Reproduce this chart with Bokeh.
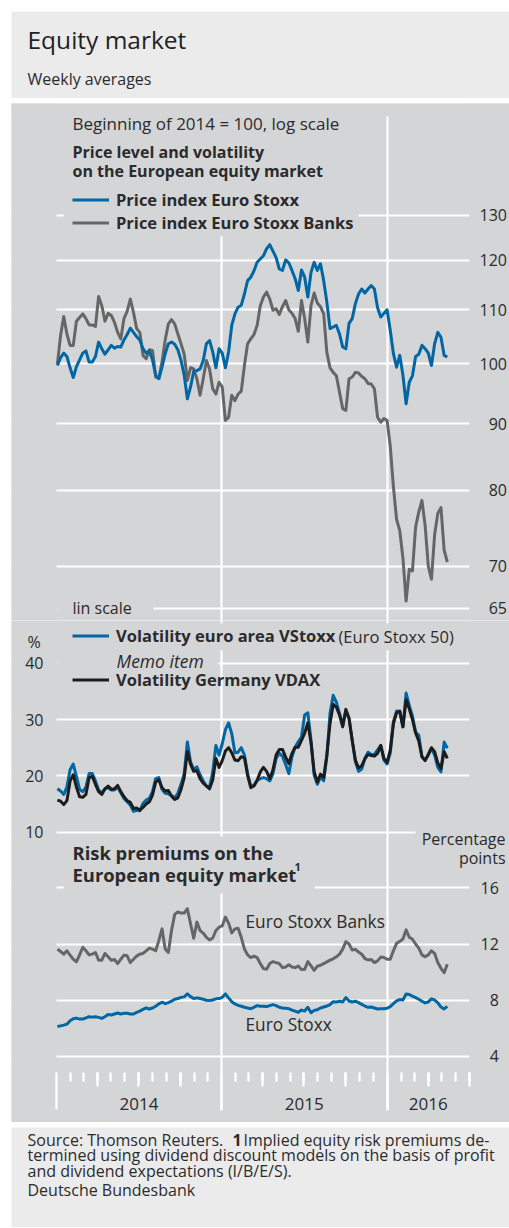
import math
import pandas as pd
from bokeh.plotting import figure
from bokeh.layouts import column
from bokeh.models import (Range1d, FixedTicker, LinearAxis, LogAxis, Label, BoxAnnotation,
                          Legend, LegendItem, Grid, ColumnDataSource)
from bokeh.embed import file_html
from bokeh.resources import INLINE

# ---------------- data (weekly averages) ----------------
es_price = [99.7, 101.1, 101.9, 101.3, 99.3, 97.6, 99.5, 100.7, 101.9, 102.3,
            100.3, 100.3, 101.3, 103.9, 102.7, 101.7, 102.5, 103.3, 102.8, 103.1,
            103.0, 104.3, 105.3, 106.5, 105.7, 104.9, 104.3, 102.7, 101.9, 102.3,
            100.7, 98.0, 97.4, 99.4, 101.8, 103.6, 103.9, 103.5, 102.5, 100.6,
            98.0, 94.0, 96.0, 98.7, 98.8, 99.1, 100.6, 103.6, 104.2, 102.1,
            99.3, 102.7, 101.9, 99.3, 102.1, 107.0, 109.2, 110.5, 110.9, 113.1,
            115.8, 116.5, 117.8, 119.6, 120.3, 121.0, 122.5, 123.4, 122.0, 120.6,
            118.2, 117.9, 120.1, 119.5, 117.9, 116.2, 113.8, 118.0, 116.5, 112.5,
            117.5, 119.6, 117.9, 119.3, 115.8, 111.5, 106.4, 106.7, 107.0, 105.4,
            103.0, 102.7, 107.4, 108.3, 111.2, 113.1, 114.1, 113.3, 114.1, 114.8,
            114.1, 110.4, 108.6, 109.3, 110.0, 106.1, 101.8, 99.4, 101.5, 98.0,
            93.2, 96.8, 97.9, 101.3, 101.7, 103.3, 102.7, 101.9, 99.7, 103.6,
            105.7, 104.8, 101.5, 101.2]
banks_price = [100.0, 105.1, 108.7, 105.4, 103.3, 103.3, 107.8, 108.5, 109.2, 108.3,
               107.1, 107.1, 106.8, 112.6, 110.8, 107.8, 109.3, 108.9, 107.6, 105.7,
               104.5, 108.3, 109.7, 112.1, 109.5, 106.4, 105.7, 101.5, 100.9, 102.5,
               102.4, 97.7, 97.5, 100.3, 104.3, 107.3, 108.1, 107.3, 105.4, 103.6,
               101.7, 97.1, 99.3, 99.1, 97.4, 94.6, 97.4, 100.6, 99.1, 95.7,
               94.8, 96.8, 96.0, 90.5, 91.0, 94.6, 93.7, 94.8, 95.3, 99.7,
               103.6, 104.5, 105.3, 107.0, 110.8, 112.5, 113.5, 112.1, 109.9, 110.2,
               109.1, 110.6, 111.8, 110.0, 109.3, 108.3, 105.9, 111.8, 108.3, 103.9,
               110.8, 113.3, 111.3, 110.6, 109.2, 102.0, 99.3, 98.5, 97.9, 95.1,
               92.4, 92.1, 97.4, 97.7, 98.5, 98.4, 97.8, 97.4, 96.6, 96.5,
               95.7, 91.0, 90.2, 90.8, 90.5, 86.5, 80.5, 76.0, 74.5, 71.0,
               65.8, 69.6, 69.4, 75.0, 77.0, 78.6, 75.2, 70.0, 68.4, 74.0,
               76.8, 77.6, 72.0, 70.5]
vstoxx = [17.7, 17.3, 16.7, 18.0, 21.1, 22.1, 19.9, 17.6, 17.2, 18.0,
          20.4, 20.4, 19.1, 17.5, 17.0, 17.7, 17.9, 17.5, 17.5, 18.0,
          17.0, 16.0, 15.4, 14.8, 13.7, 13.9, 13.8, 15.1, 15.7, 16.0,
          17.2, 19.5, 19.7, 17.6, 16.9, 16.8, 16.5, 16.1, 16.9, 18.5,
          20.4, 26.0, 22.5, 21.1, 21.6, 20.2, 19.1, 18.2, 18.0, 20.7,
          25.4, 23.7, 25.7, 28.2, 29.4, 27.5, 24.1, 24.2, 25.0, 23.7,
          20.4, 18.2, 18.3, 19.2, 19.5, 19.7, 19.5, 19.1, 20.4, 23.1,
          24.0, 23.5, 22.0, 20.4, 23.4, 25.1, 26.1, 26.9, 30.8, 31.2,
          26.4, 20.1, 18.5, 19.8, 19.1, 23.4, 31.1, 34.3, 33.1, 31.1,
          29.0, 31.5, 30.2, 26.3, 22.5, 20.8, 21.2, 23.1, 24.2, 23.8,
          23.8, 24.6, 25.4, 22.8, 22.1, 24.0, 29.6, 31.5, 31.4, 28.7,
          34.7, 32.5, 30.6, 27.8, 27.2, 23.4, 22.8, 23.7, 24.9, 23.7,
          21.5, 20.7, 26.0, 24.9]
vdax = [15.7, 15.5, 14.9, 15.6, 19.1, 20.2, 18.0, 16.3, 16.2, 16.7,
        19.7, 19.9, 18.5, 17.2, 16.7, 17.7, 18.2, 17.6, 17.7, 18.3,
        17.2, 16.3, 15.6, 15.3, 14.2, 14.3, 13.9, 14.4, 15.0, 15.4,
        16.6, 18.9, 19.3, 17.9, 17.3, 17.4, 16.4, 15.8, 16.1, 17.6,
        19.7, 24.3, 22.1, 20.8, 20.9, 19.5, 18.7, 18.2, 17.7, 19.3,
        23.1, 21.5, 22.7, 24.4, 25.0, 24.1, 22.8, 22.7, 23.4, 23.2,
        20.1, 17.9, 18.2, 19.2, 20.7, 21.5, 20.8, 19.5, 21.1, 23.7,
        24.7, 24.7, 23.3, 22.2, 24.0, 25.1, 25.1, 26.3, 27.6, 29.4,
        25.9, 20.7, 18.9, 20.3, 19.7, 23.7, 29.3, 32.7, 32.2, 30.8,
        28.7, 31.8, 30.2, 26.3, 22.8, 21.4, 21.8, 23.0, 23.8, 23.6,
        23.5, 24.0, 25.4, 23.1, 22.4, 24.6, 29.3, 31.2, 31.5, 28.7,
        33.5, 31.9, 30.0, 27.6, 26.2, 23.4, 22.7, 23.8, 25.0, 24.3,
        22.3, 21.3, 24.3, 23.1]
banks_rp = [11.64, 11.47, 11.28, 11.52, 11.21, 10.92, 10.73, 11.23, 11.76, 11.52,
            11.23, 11.28, 11.40, 10.85, 10.85, 11.33, 11.09, 10.85, 10.90, 10.61,
            10.92, 11.21, 11.16, 10.68, 10.92, 11.14, 11.28, 11.33, 11.52, 11.71,
            11.64, 11.52, 12.24, 13.08, 11.64, 11.40, 12.96, 14.11, 14.28, 14.20,
            14.20, 14.51, 13.44, 12.41, 13.56, 12.96, 12.77, 12.48, 12.29, 12.43,
            12.96, 13.20, 13.29, 13.92, 13.49, 12.79, 13.08, 13.13, 12.48, 11.64,
            11.23, 11.04, 11.14, 11.04, 10.61, 10.25, 10.20, 10.61, 10.75, 10.68,
            10.61, 10.32, 10.37, 10.52, 10.37, 10.32, 10.44, 10.18, 10.20, 10.75,
            10.44, 10.13, 10.42, 10.49, 10.61, 10.73, 10.85, 10.95, 11.09, 11.28,
            11.64, 12.17, 12.00, 11.57, 11.62, 11.43, 11.28, 10.97, 10.87, 10.90,
            10.68, 10.80, 11.07, 11.04, 10.92, 10.92, 11.52, 12.05, 12.19, 12.36,
            13.01, 12.48, 12.34, 12.00, 11.71, 11.23, 11.09, 11.23, 11.52, 11.33,
            10.68, 10.27, 9.96, 10.56]
es_rp = [6.13, 6.18, 6.23, 6.30, 6.54, 6.68, 6.73, 6.66, 6.66, 6.75,
         6.83, 6.80, 6.83, 6.78, 6.71, 6.83, 6.99, 6.95, 7.02, 7.09,
         7.02, 7.07, 7.07, 7.02, 7.02, 7.14, 7.23, 7.35, 7.45, 7.38,
         7.45, 7.57, 7.74, 7.86, 7.76, 7.83, 7.93, 8.07, 8.12, 8.21,
         8.24, 8.45, 8.26, 8.12, 8.17, 8.12, 8.07, 8.00, 7.98, 8.02,
         8.10, 8.12, 8.21, 8.45, 8.17, 7.90, 7.74, 7.64, 7.57, 7.50,
         7.45, 7.40, 7.50, 7.62, 7.57, 7.57, 7.55, 7.62, 7.69, 7.62,
         7.50, 7.45, 7.43, 7.40, 7.30, 7.23, 7.14, 7.30, 7.23, 7.50,
         7.11, 7.28, 7.33, 7.45, 7.52, 7.59, 7.69, 7.90, 7.88, 7.93,
         7.88, 8.19, 7.95, 7.88, 7.93, 7.83, 7.71, 7.59, 7.50, 7.52,
         7.45, 7.38, 7.40, 7.40, 7.43, 7.55, 7.76, 7.95, 8.05, 8.02,
         8.45, 8.41, 8.29, 8.19, 8.07, 7.93, 7.81, 7.88, 8.10, 8.02,
         7.81, 7.52, 7.38, 7.57]

price_ticks = [65, 70, 80, 90, 100, 110, 120, 130]
vol_ticks = [10, 20, 30, 40]
rp_ticks = [4, 8, 12, 16]
year_labels = ["2014", "2015", "2016"]

dates = pd.date_range("2014-01-03", periods=len(es_price), freq="7D")

# ---------------- style / page geometry (page pixels) ----------------
FONT = "Open Sans"
TXT = "#2b2b2b"
BG = "#d4d5d7"
HBG = "#ebebec"
BLUE = "#0066a4"
GRAY = "#666666"
BLACK = "#1c1c1c"
WHITE = "#ffffff"

PX0, PX1 = 11, 509      # figure left / right on the page
W = PX1 - PX0
FL, FR = 56, 469        # plot-area left / right on the page
XS, XE = pd.Timestamp("2014-01-01"), pd.Timestamp("2016-07-01")
MS0, MS1 = XS.value / 1e6, XE.value / 1e6
LH = 23                 # legend row height


def ms(s):
    return pd.Timestamp(s).value / 1e6


def xpos(px):
    return MS0 + (px - FL) / (FR - FL) * (MS1 - MS0)


xr = Range1d(start=xpos(PX0), end=xpos(PX1))


def vA(py):   # log scale of the price panel (page y -> value)
    return 100.0 * math.exp((363.3 - py) / 567.0)


def vV(py):   # volatility scale
    return 40.0 + (662.7 - py) / 5.633


def vR(py):   # risk premium scale
    return 16.0 + (887.3 - py) / 14.057


def base_fig(h, yrange, ytype="linear"):
    p = figure(width=W, height=h, x_range=xr, y_range=yrange, y_axis_type=ytype,
               x_axis_location=None, y_axis_location=None,
               output_backend="svg", toolbar_location=None,
               min_border_left=0, min_border_right=0, min_border_top=0, min_border_bottom=0,
               background_fill_color=BG, border_fill_color=BG, outline_line_color=None)
    for g in p.select(type=Grid):
        g.visible = False
    return p


def style_axis(ax, standoff):
    ax.axis_line_color = None
    ax.major_tick_line_color = None
    ax.minor_tick_line_color = None
    ax.major_tick_out = 0
    ax.major_tick_in = 0
    ax.major_label_standoff = standoff
    ax.major_label_text_font = FONT
    ax.major_label_text_font_size = "16px"
    ax.major_label_text_color = TXT


def add_label(p, text, x, y, size="16px", style="normal", align="left", color=TXT):
    p.add_layout(Label(x=x, y=y, text=text, text_font=FONT, text_font_size=size,
                       text_font_style=style, text_align=align, text_baseline="middle",
                       text_color=color))


def mask(p, x0, x1, ytop, ybot):
    p.add_layout(BoxAnnotation(left=xpos(x0), right=xpos(x1), top=ytop, bottom=ybot,
                               fill_color=BG, fill_alpha=1.0, line_color=None, level="underlay"))


def make_legend(items, vx, vy):
    return Legend(items=items, location=(vx, vy), orientation="vertical",
                  glyph_width=37, glyph_height=LH, label_height=LH, label_standoff=7,
                  padding=0, margin=0, spacing=0, border_line_color=None,
                  background_fill_alpha=0, label_text_font=FONT, label_text_font_size="16.5px",
                  label_text_font_style="bold", label_text_color=TXT)


year_grid = FixedTicker(ticks=[ms("2015-01-01"), ms("2016-01-01")])


def text_fig(top, bottom):
    p = figure(width=W, height=bottom - top, x_range=Range1d(PX0, PX1),
               y_range=Range1d(bottom, top), x_axis_location=None, y_axis_location=None,
               output_backend="svg", toolbar_location=None,
               min_border_left=0, min_border_right=0, min_border_top=0, min_border_bottom=0,
               background_fill_color=HBG, border_fill_color=HBG, outline_line_color=None)
    for g in p.select(type=Grid):
        g.visible = False
    return p


# ---------------- header (page y 11..98) ----------------
pH = text_fig(11, 98)
add_label(pH, "Equity market", 27, 38.5, size="24.5px", color="#222222")
add_label(pH, "Weekly averages", 27, 78, size="16px")
pH.margin = (0, 0, 5, 0)

# ---------------- price panel, log scale (page y 103..620) ----------------
A_TOP, A_BOT = 103, 620
pA = base_fig(A_BOT - A_TOP, Range1d(vA(A_BOT), vA(A_TOP)), "log")
pA.add_layout(Grid(dimension=1, ticker=FixedTicker(ticks=price_ticks),
                   grid_line_color=WHITE, grid_line_width=2.2))
pA.add_layout(Grid(dimension=0, ticker=year_grid, grid_line_color=WHITE, grid_line_width=2.2))
mask(pA, PX0, FL, vA(A_TOP), vA(A_BOT))
mask(pA, FR, PX1, vA(A_TOP), vA(A_BOT))
mask(pA, PX0, PX1, vA(A_TOP), vA(116))
mask(pA, 63.3, 358, vA(116), vA(236))
mask(pA, FL, 153, vA(598), vA(616))

srcA = ColumnDataSource(dict(date=dates, es=es_price, banks=banks_price))
r_banks = pA.line("date", "banks", source=srcA, line_color=GRAY, line_width=3, line_join="round")
r_es = pA.line("date", "es", source=srcA, line_color=BLUE, line_width=3, line_join="round")

axA = LogAxis(ticker=FixedTicker(ticks=price_ticks, minor_ticks=[]), fixed_location=MS1,
              major_label_overrides={t: (str(t) if t >= 100 else "\u2007" + str(t)) for t in price_ticks})
style_axis(axA, 10)
pA.add_layout(axA, "right")

add_label(pA, "Beginning of 2014 = 100, log scale", xpos(72), vA(123.3), size="17px")
add_label(pA, "Price level and volatility", xpos(72), vA(151.7), style="bold")
add_label(pA, "on the European equity market", xpos(72), vA(170.7), style="bold")
pA.add_layout(make_legend([LegendItem(label="Price index Euro Stoxx", renderers=[r_es]),
                           LegendItem(label="Price index Euro Stoxx Banks", renderers=[r_banks])],
                          72 - PX0, A_BOT - (199.3 - LH / 2 + 2 * LH)))
add_label(pA, "lin scale", xpos(72), vA(607.3))

# ---------------- volatility + risk premium panel (page y 620..1122) ----------------
B_TOP, B_BOT = 620, 1122
pB = base_fig(B_BOT - B_TOP, Range1d(vV(B_BOT), vV(B_TOP)))
pB.extra_y_ranges = {"rp": Range1d(vR(B_BOT), vR(B_TOP))}
pB.add_layout(Grid(dimension=1, ticker=FixedTicker(ticks=vol_ticks),
                   grid_line_color=WHITE, grid_line_width=2.2))
pB.add_layout(Grid(dimension=1, ticker=FixedTicker(ticks=rp_ticks), y_range_name="rp",
                   grid_line_color=WHITE, grid_line_width=2.2))
pB.add_layout(Grid(dimension=0, ticker=year_grid, grid_line_color=WHITE, grid_line_width=2.2))
mask(pB, PX0, FL, vV(B_TOP), vV(B_BOT))
mask(pB, FR, PX1, vV(B_TOP), vV(B_BOT))
mask(pB, FL, FR, vV(1110), vV(B_BOT))
mask(pB, FL, 455, vV(623), vV(650))
mask(pB, FL, 218, vV(650), vV(692))
mask(pB, 415, FR, vV(826), vV(864))
mask(pB, 63.3, 314, vV(836), vV(893))

srcB = ColumnDataSource(dict(date=dates, vstoxx=vstoxx, vdax=vdax, es=es_rp, banks=banks_rp))
r_vstoxx = pB.line("date", "vstoxx", source=srcB, line_color=BLUE, line_width=3, line_join="round")
r_vdax = pB.line("date", "vdax", source=srcB, line_color=BLACK, line_width=3, line_join="round")
pB.line("date", "banks", source=srcB, line_color=GRAY, line_width=3, line_join="round", y_range_name="rp")
pB.line("date", "es", source=srcB, line_color=BLUE, line_width=3, line_join="round", y_range_name="rp")

axV = LinearAxis(ticker=FixedTicker(ticks=vol_ticks, minor_ticks=[]), fixed_location=MS0)
style_axis(axV, 13)
pB.add_layout(axV, "left")
axR = LinearAxis(y_range_name="rp", ticker=FixedTicker(ticks=rp_ticks, minor_ticks=[]),
                 fixed_location=MS1,
                 major_label_overrides={t: (str(t) if t >= 10 else "\u2007" + str(t)) for t in rp_ticks})
style_axis(axR, 11)
pB.add_layout(axR, "right")

# time axis: year ticks (long), month ticks (short), quarter ticks (medium), year labels
FIX = vV(1072)
months = pd.date_range("2014-01-01", "2016-07-01", freq="MS")
year_starts = [ms(d) for d in months if d.month == 1]
month_ticks = [ms(d) for d in months if d.month != 1]
quarter_ticks = [ms(d) for d in months if d.month in (4, 7, 10)]
year_mid = [ms("2014-07-02"), ms("2015-07-02"), ms("2016-04-01")]


def time_axis(ticks, minor, out, minor_out, labels=None, standoff=0):
    ax = LinearAxis(ticker=FixedTicker(ticks=ticks, minor_ticks=minor), fixed_location=FIX)
    ax.axis_line_color = None
    ax.major_tick_line_color = WHITE if out > 0 else None
    ax.major_tick_line_width = 2.3
    ax.major_tick_out = out
    ax.major_tick_in = 0
    ax.minor_tick_line_color = WHITE if minor else None
    ax.minor_tick_line_width = 2.3
    ax.minor_tick_out = minor_out
    ax.minor_tick_in = 0
    if labels is None:
        ax.major_label_text_alpha = 0
        ax.major_label_text_font_size = "1px"
    else:
        ax.major_label_overrides = dict(zip(ticks, labels))
        ax.major_label_standoff = standoff
        ax.major_label_text_font = FONT
        ax.major_label_text_font_size = "17px"
        ax.major_label_text_color = TXT
    pB.add_layout(ax, "below")


time_axis(year_starts, month_ticks, 37, 9)
time_axis(quarter_ticks, [], 14, 0)
time_axis(year_mid, [], 0, 0, labels=year_labels, standoff=25)

# texts and legends
add_label(pB, "%", xpos(27), vV(641.7))
pB.add_layout(make_legend([LegendItem(label="Volatility euro area VStoxx", renderers=[r_vstoxx])],
                          72 - PX0, B_BOT - (635.5 + LH / 2)))
add_label(pB, "(Euro Stoxx 50)", xpos(338), vV(635.5), size="16.5px")
add_label(pB, "Memo item", xpos(116), vV(660), size="17.5px", style="italic")
pB.add_layout(make_legend([LegendItem(label="Volatility Germany VDAX", renderers=[r_vdax])],
                          72 - PX0, B_BOT - (679.3 + LH / 2)))
add_label(pB, "Risk premiums on the", xpos(72), vV(851.7), size="18.4px", style="bold")
add_label(pB, "European equity market", xpos(72), vV(874), size="18.4px", style="bold")
add_label(pB, "1", xpos(294), vV(866), size="11px", style="bold")
add_label(pB, "Percentage", xpos(505), vV(838.3), align="right")
add_label(pB, "points", xpos(505), vV(857.3), align="right")
add_label(pB, "Euro Stoxx Banks", xpos(245), vV(920.7), size="17.3px")
add_label(pB, "Euro Stoxx", xpos(245), vV(1024), size="17.3px")

# ---------------- footer (page y 1127..1227) ----------------
pF = text_fig(1127, 1227)
FS = "16px"
add_label(pF, "Source: Thomson Reuters.", 27, 1139, size=FS)
add_label(pF, "1", 232, 1139, size=FS, style="bold")
add_label(pF, "Implied equity risk premiums de-", 243, 1139, size=FS)
add_label(pF, "termined using dividend discount models on the basis of profit", 27, 1154.5, size=FS)
add_label(pF, "and dividend expectations (I/B/E/S).", 27, 1170, size=FS)
add_label(pF, "Deutsche Bundesbank", 27, 1189.5, size=FS)
pF.margin = (5, 0, 0, 0)

layout = column(pH, pA, pB, pF, spacing=0)
layout.margin = (11, 0, 0, 11)

open("out.html", "w").write(file_html(layout, INLINE))
